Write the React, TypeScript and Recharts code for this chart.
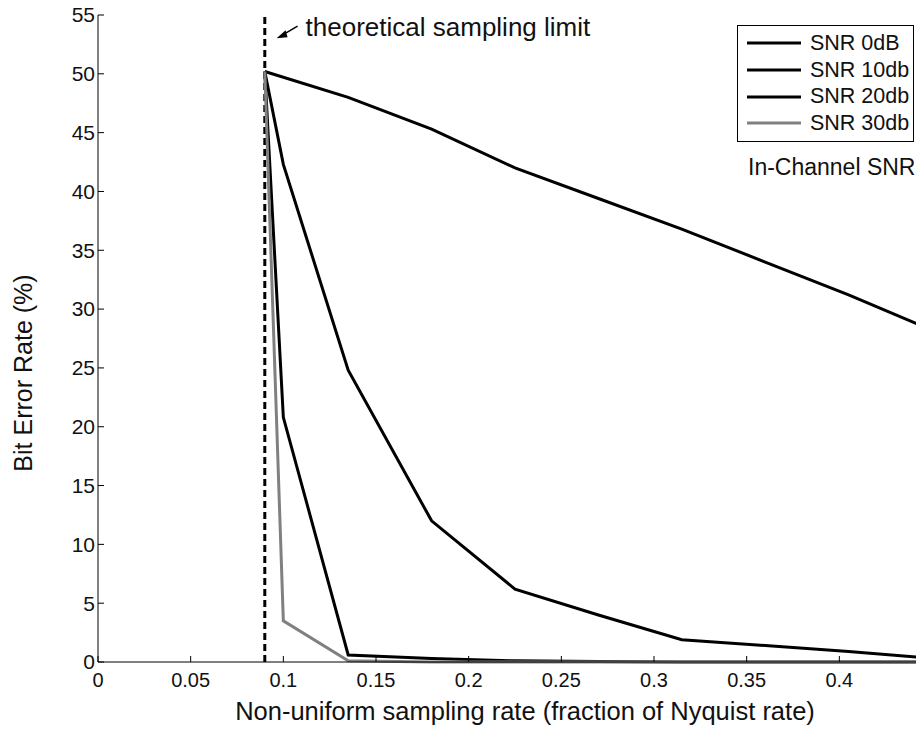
import { LineChart, Line, XAxis, YAxis, ReferenceLine, ReferenceDot, Legend } from 'recharts';

const rates = [0.09, 0.1, 0.135, 0.18, 0.225, 0.27, 0.315, 0.36, 0.405, 0.45];
const snr0 = [50.2, null, 48.0, 45.3, 42.0, 39.4, 36.8, 34.0, 31.2, 28.2];
const snr10 = [50.2, 42.3, 24.8, 12.0, 6.2, 4.0, 1.9, 1.4, 0.9, 0.3];
const snr20 = [50.2, 20.8, 0.6, 0.3, 0.1, 0.05, 0, 0, 0, 0];
const snr30 = [50.2, 3.5, 0.1, 0, 0, 0, 0, 0, 0, 0];

const xTicks = [0, 0.05, 0.1, 0.15, 0.2, 0.25, 0.3, 0.35, 0.4];
const yTicks = [0, 5, 10, 15, 20, 25, 30, 35, 40, 45, 50, 55];

const series = [
  { key: 'snr0', name: 'SNR 0dB', color: '#000', values: snr0 },
  { key: 'snr10', name: 'SNR 10db', color: '#000', values: snr10 },
  { key: 'snr20', name: 'SNR 20db', color: '#000', values: snr20 },
  { key: 'snr30', name: 'SNR 30db', color: '#808080', values: snr30 },
];

const data = rates.map((x, i) => {
  const row: Record<string, number | null> = { x };
  series.forEach((s) => (row[s.key] = s.values[i]));
  return row;
});

const FONT = '"Liberation Sans", Arial, sans-serif';

function XTick({ x, y, payload }: any) {
  return (
    <g>
      <line x1={x} y1={y} x2={x} y2={y - 6} stroke="#000" strokeWidth={1} />
      <text x={x} y={y + 25} textAnchor="middle" fontSize={20} fontFamily={FONT} fill="#111">
        {String(payload.value)}
      </text>
    </g>
  );
}

function YTick({ x, y, payload }: any) {
  return (
    <g>
      <line x1={x} y1={y} x2={x + 6} y2={y} stroke="#000" strokeWidth={1} />
      <text x={x - 3} y={y} dy="0.35em" textAnchor="end" fontSize={21} fontFamily={FONT} fill="#111">
        {payload.value}
      </text>
    </g>
  );
}

function LegendBox() {
  return (
    <div style={{ fontFamily: FONT, color: '#111' }}>
      <div style={{ border: '1px solid #000', background: '#fff', padding: '4px 0 4px 9px', width: 166 }}>
        {series.map((s) => (
          <div key={s.key} style={{ display: 'flex', alignItems: 'center', height: 26.7, fontSize: 21.5 }}>
            <svg width={54} height={6} style={{ marginRight: 9 }}>
              <line x1={0} y1={3} x2={54} y2={3} stroke={s.color} strokeWidth={3} />
            </svg>
            {s.name}
          </div>
        ))}
      </div>
      <div style={{ fontSize: 23, marginTop: 12, marginLeft: 11, whiteSpace: 'nowrap' }}>In-Channel SNR</div>
    </div>
  );
}

function Annotation({ cx, cy }: any) {
  // arrow pointing at the dashed limit line, label to its right
  return (
    <g>
      <line x1={cx + 30} y1={cy - 10} x2={cx + 13} y2={cy} stroke="#000" strokeWidth={1.5} />
      <polygon points={`${cx + 9},${cy + 2} ${cx + 18},${cy - 6} ${cx + 20},${cy + 1}`} fill="#000" />
      <text x={cx + 38} y={cy} fontSize={26} fontFamily={FONT} fill="#111">
        theoretical sampling limit
      </text>
    </g>
  );
}

export default function App() {
  return (
    <div style={{ position: 'absolute', left: 0, top: 0, width: 916, height: 734, overflow: 'hidden', background: '#fff' }}>
      <LineChart width={932} height={734} data={data} margin={{ top: 15, right: 0, bottom: 0, left: 0 }}>
        <XAxis
          dataKey="x"
          type="number"
          domain={[0, 0.45]}
          ticks={xTicks}
          tickSize={0}
          tickMargin={0}
          tick={<XTick />}
          height={72}
          stroke="#000"
          label={{
            content: () => (
              <text x={525} y={720} textAnchor="middle" fontSize={25.5} fontFamily={FONT} fill="#111">
                Non-uniform sampling rate (fraction of Nyquist rate)
              </text>
            ),
          }}
        />
        <YAxis
          type="number"
          domain={[0, 55]}
          ticks={yTicks}
          tickSize={0}
          tickMargin={0}
          tick={<YTick />}
          width={98}
          stroke="#000"
          label={{
            content: () => (
              <text transform="translate(32,373) rotate(-90)" textAnchor="middle" fontSize={25} fontFamily={FONT} fill="#111">
                Bit Error Rate (%)
              </text>
            ),
          }}
        />
        <ReferenceLine x={0.09} stroke="#000" strokeWidth={3} strokeDasharray="7 4" />
        <ReferenceDot x={0.0915} y={53.2} r={0} shape={<Annotation />} />
        {series.map((s) => (
          <Line
            key={s.key}
            dataKey={s.key}
            name={s.name}
            type="linear"
            stroke={s.color}
            strokeWidth={3}
            dot={false}
            connectNulls
            isAnimationActive={false}
          />
        ))}
        <Legend
          layout="horizontal"
          verticalAlign="middle"
          align="center"
          content={<LegendBox />}
          wrapperStyle={{ position: 'absolute', top: 25, left: 737, width: 180 }}
        />
      </LineChart>
    </div>
  );
}
